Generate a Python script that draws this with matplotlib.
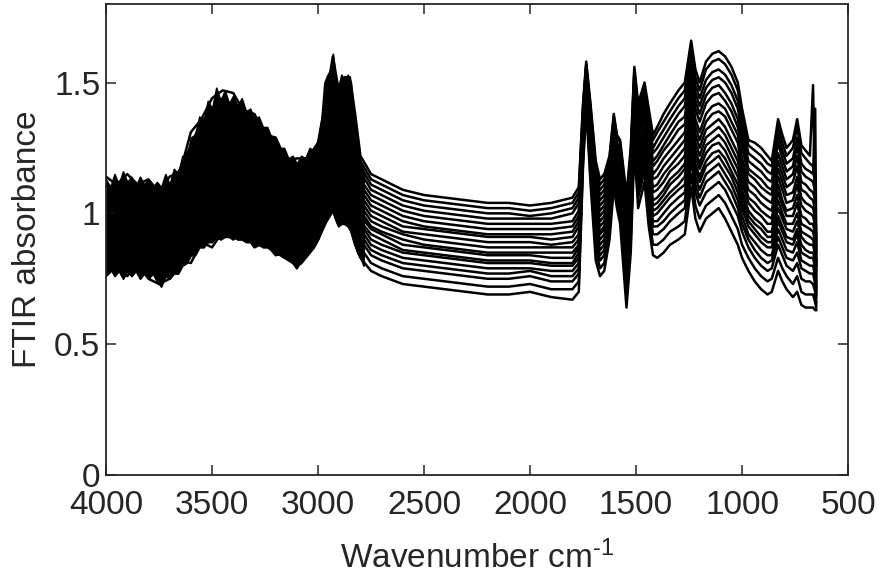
import matplotlib
matplotlib.use("Agg")
import matplotlib.pyplot as plt

plt.rcParams['font.family'] = ['Liberation Sans', 'DejaVu Sans']
plt.rcParams['mathtext.fontset'] = 'custom'
plt.rcParams['mathtext.rm'] = 'Liberation Sans'
plt.rcParams['mathtext.it'] = 'Liberation Sans'

# Wavenumber grid (cm^-1), descending
wavenumber = [
    4000, 3950, 3900, 3850, 3800, 3750, 3700, 3650, 3600, 3550,
    3500, 3450, 3400, 3350, 3300, 3250, 3200, 3150, 3100, 3050,
    3000, 2960, 2930, 2905, 2875, 2850, 2825, 2800, 2750, 2700,
    2600, 2500, 2400, 2300, 2200, 2100, 2000, 1900, 1800, 1770,
    1750, 1735, 1715, 1690, 1670, 1650, 1625, 1605, 1590, 1575,
    1545, 1525, 1508, 1490, 1460, 1440, 1420, 1400,
    1370, 1340, 1300, 1270, 1240, 1220, 1200, 1170, 1140, 1110,
    1080, 1050, 1020, 1000, 970, 940, 910, 880, 860, 830,
    810, 790, 760, 740, 720, 700, 680, 665, 655, 650,
]

spectrum_01 = [
    1.14, 1.11, 1.15, 1.11, 1.13, 1.08, 1.14, 1.16, 1.31, 1.36, 1.44, 1.47, 1.46, 1.39, 1.38, 1.30, 1.29, 1.20, 1.21, 1.21,
    1.27, 1.45, 1.60, 1.48, 1.52, 1.52, 1.38, 1.22, 1.15, 1.13, 1.09, 1.07, 1.06, 1.05, 1.04, 1.04, 1.03, 1.04, 1.06, 1.10,
    1.42, 1.58, 1.42, 1.20, 1.13, 1.15, 1.22, 1.38, 1.30, 1.28, 1.07, 1.25, 1.56, 1.42, 1.50, 1.40, 1.30, 1.33,
    1.38, 1.42, 1.47, 1.50, 1.66, 1.55, 1.50, 1.58, 1.61, 1.62, 1.60, 1.56, 1.50, 1.40, 1.28, 1.27, 1.25, 1.22, 1.20, 1.36,
    1.30, 1.25, 1.28, 1.36, 1.26, 1.24, 1.22, 1.49, 1.00, 0.80,
]
spectrum_02 = [
    1.10, 1.11, 1.11, 1.11, 1.09, 1.09, 1.10, 1.17, 1.26, 1.35, 1.39, 1.44, 1.41, 1.39, 1.34, 1.30, 1.25, 1.20, 1.17, 1.21,
    1.25, 1.43, 1.56, 1.45, 1.49, 1.49, 1.36, 1.20, 1.13, 1.11, 1.07, 1.05, 1.04, 1.03, 1.02, 1.02, 1.01, 1.02, 1.04, 1.08,
    1.41, 1.57, 1.41, 1.18, 1.11, 1.13, 1.21, 1.37, 1.29, 1.27, 1.05, 1.23, 1.55, 1.40, 1.48, 1.38, 1.28, 1.31,
    1.35, 1.39, 1.44, 1.47, 1.63, 1.52, 1.47, 1.55, 1.58, 1.59, 1.57, 1.53, 1.47, 1.37, 1.26, 1.24, 1.22, 1.19, 1.18, 1.33,
    1.27, 1.22, 1.25, 1.33, 1.23, 1.21, 1.19, 1.18, 1.10, 0.88,
]
spectrum_03 = [
    1.06, 1.11, 1.07, 1.11, 1.05, 1.09, 1.06, 1.17, 1.21, 1.34, 1.33, 1.41, 1.36, 1.38, 1.30, 1.29, 1.21, 1.20, 1.13, 1.20,
    1.23, 1.40, 1.52, 1.42, 1.46, 1.46, 1.33, 1.18, 1.11, 1.09, 1.05, 1.03, 1.02, 1.01, 1.00, 1.00, 0.99, 1.00, 1.02, 1.06,
    1.39, 1.56, 1.39, 1.16, 1.09, 1.11, 1.19, 1.35, 1.27, 1.25, 1.02, 1.21, 1.53, 1.38, 1.46, 1.35, 1.25, 1.28,
    1.32, 1.36, 1.41, 1.44, 1.60, 1.49, 1.44, 1.51, 1.54, 1.55, 1.53, 1.49, 1.43, 1.34, 1.23, 1.21, 1.19, 1.16, 1.15, 1.30,
    1.24, 1.19, 1.21, 1.29, 1.19, 1.17, 1.16, 1.15, 1.40, 0.90,
]
spectrum_04 = [
    1.07, 1.07, 1.07, 1.08, 1.06, 1.05, 1.06, 1.12, 1.21, 1.30, 1.33, 1.36, 1.36, 1.33, 1.29, 1.25, 1.21, 1.16, 1.13, 1.17,
    1.21, 1.37, 1.49, 1.40, 1.43, 1.43, 1.30, 1.16, 1.09, 1.07, 1.03, 1.01, 1.00, 0.99, 0.98, 0.98, 0.98, 0.98, 1.00, 1.04,
    1.38, 1.55, 1.37, 1.14, 1.07, 1.09, 1.17, 1.34, 1.26, 1.23, 1.00, 1.19, 1.51, 1.36, 1.44, 1.33, 1.23, 1.25,
    1.29, 1.33, 1.38, 1.41, 1.57, 1.46, 1.41, 1.48, 1.51, 1.52, 1.50, 1.46, 1.40, 1.31, 1.20, 1.18, 1.16, 1.13, 1.12, 1.27,
    1.21, 1.16, 1.18, 1.26, 1.16, 1.14, 1.13, 1.12, 1.08, 0.86,
]
spectrum_05 = [
    1.07, 1.03, 1.07, 1.04, 1.06, 1.00, 1.06, 1.07, 1.21, 1.25, 1.33, 1.31, 1.35, 1.28, 1.27, 1.20, 1.20, 1.11, 1.13, 1.13,
    1.19, 1.34, 1.46, 1.37, 1.40, 1.39, 1.27, 1.13, 1.07, 1.05, 1.01, 0.99, 0.98, 0.97, 0.96, 0.96, 0.96, 0.96, 0.97, 1.01,
    1.37, 1.54, 1.35, 1.12, 1.05, 1.07, 1.15, 1.32, 1.24, 1.21, 0.98, 1.16, 1.49, 1.33, 1.42, 1.30, 1.20, 1.22,
    1.26, 1.30, 1.35, 1.37, 1.54, 1.43, 1.38, 1.45, 1.48, 1.49, 1.46, 1.42, 1.36, 1.28, 1.17, 1.15, 1.13, 1.10, 1.09, 1.23,
    1.18, 1.13, 1.15, 1.22, 1.12, 1.11, 1.09, 1.08, 1.05, 0.85,
]
spectrum_06 = [
    1.03, 1.03, 1.03, 1.04, 1.02, 1.01, 1.02, 1.08, 1.16, 1.24, 1.28, 1.30, 1.30, 1.28, 1.23, 1.20, 1.16, 1.11, 1.09, 1.13,
    1.17, 1.32, 1.43, 1.34, 1.37, 1.36, 1.25, 1.11, 1.05, 1.03, 0.99, 0.97, 0.96, 0.95, 0.94, 0.94, 0.94, 0.94, 0.95, 0.99,
    1.36, 1.53, 1.34, 1.10, 1.03, 1.05, 1.13, 1.31, 1.23, 1.19, 0.96, 1.14, 1.48, 1.31, 1.40, 1.28, 1.18, 1.20,
    1.24, 1.27, 1.32, 1.34, 1.51, 1.40, 1.35, 1.42, 1.45, 1.46, 1.43, 1.39, 1.33, 1.25, 1.15, 1.13, 1.10, 1.08, 1.07, 1.20,
    1.15, 1.10, 1.12, 1.18, 1.09, 1.08, 1.06, 1.05, 1.01, 0.82,
]
spectrum_07 = [
    0.99, 1.03, 0.99, 1.04, 0.98, 1.01, 0.98, 1.08, 1.11, 1.23, 1.22, 1.29, 1.25, 1.27, 1.19, 1.19, 1.12, 1.11, 1.05, 1.12,
    1.15, 1.29, 1.39, 1.31, 1.34, 1.33, 1.22, 1.09, 1.03, 1.01, 0.97, 0.95, 0.94, 0.93, 0.92, 0.92, 0.92, 0.92, 0.93, 0.97,
    1.34, 1.52, 1.32, 1.08, 1.01, 1.03, 1.11, 1.29, 1.21, 1.17, 0.93, 1.12, 1.46, 1.29, 1.38, 1.25, 1.15, 1.17,
    1.21, 1.24, 1.28, 1.31, 1.48, 1.36, 1.31, 1.38, 1.41, 1.42, 1.40, 1.35, 1.30, 1.21, 1.12, 1.10, 1.07, 1.05, 1.04, 1.17,
    1.12, 1.07, 1.08, 1.14, 1.06, 1.04, 1.03, 1.02, 0.98, 0.80,
]
spectrum_08 = [
    0.99, 1.00, 1.00, 1.00, 0.98, 0.97, 0.99, 1.04, 1.11, 1.19, 1.22, 1.24, 1.24, 1.22, 1.18, 1.15, 1.12, 1.07, 1.05, 1.08,
    1.13, 1.27, 1.36, 1.28, 1.31, 1.30, 1.19, 1.07, 1.01, 0.99, 0.95, 0.94, 0.93, 0.92, 0.91, 0.91, 0.91, 0.90, 0.91, 0.95,
    1.33, 1.51, 1.31, 1.06, 0.99, 1.01, 1.10, 1.28, 1.20, 1.16, 0.91, 1.10, 1.44, 1.27, 1.36, 1.23, 1.13, 1.14,
    1.18, 1.21, 1.25, 1.28, 1.45, 1.33, 1.28, 1.35, 1.38, 1.39, 1.37, 1.32, 1.27, 1.18, 1.09, 1.07, 1.04, 1.02, 1.01, 1.14,
    1.09, 1.04, 1.05, 1.11, 1.03, 1.01, 1.00, 0.99, 0.95, 0.78,
]
spectrum_09 = [
    0.99, 0.96, 1.00, 0.96, 0.98, 0.92, 0.99, 0.99, 1.11, 1.14, 1.21, 1.19, 1.23, 1.17, 1.17, 1.10, 1.11, 1.03, 1.04, 1.04,
    1.11, 1.24, 1.33, 1.25, 1.27, 1.27, 1.16, 1.05, 0.99, 0.97, 0.93, 0.92, 0.91, 0.90, 0.89, 0.89, 0.89, 0.88, 0.89, 0.92,
    1.31, 1.50, 1.29, 1.03, 0.97, 0.99, 1.08, 1.26, 1.18, 1.14, 0.88, 1.07, 1.42, 1.24, 1.33, 1.20, 1.10, 1.11,
    1.15, 1.18, 1.22, 1.25, 1.41, 1.30, 1.25, 1.32, 1.34, 1.36, 1.33, 1.28, 1.23, 1.15, 1.06, 1.04, 1.01, 0.99, 0.98, 1.11,
    1.05, 1.01, 1.02, 1.07, 0.99, 0.98, 0.96, 0.96, 0.92, 0.76,
]
spectrum_10 = [
    0.96, 0.96, 0.96, 0.97, 0.95, 0.93, 0.95, 1.00, 1.07, 1.14, 1.16, 1.19, 1.19, 1.17, 1.13, 1.10, 1.07, 1.03, 1.01, 1.04,
    1.09, 1.22, 1.30, 1.23, 1.25, 1.24, 1.14, 1.03, 0.97, 0.95, 0.92, 0.90, 0.89, 0.88, 0.87, 0.87, 0.87, 0.87, 0.87, 0.90,
    1.30, 1.49, 1.28, 1.02, 0.95, 0.97, 1.07, 1.25, 1.17, 1.13, 0.86, 1.05, 1.41, 1.22, 1.32, 1.18, 1.08, 1.09,
    1.12, 1.16, 1.19, 1.22, 1.39, 1.27, 1.22, 1.29, 1.31, 1.33, 1.30, 1.25, 1.20, 1.12, 1.04, 1.01, 0.99, 0.96, 0.96, 1.08,
    1.03, 0.99, 0.99, 1.04, 0.96, 0.95, 0.94, 0.93, 0.89, 0.74,
]
spectrum_11 = [
    0.92, 0.96, 0.92, 0.97, 0.91, 0.94, 0.91, 1.00, 1.02, 1.13, 1.11, 1.18, 1.14, 1.16, 1.09, 1.10, 1.03, 1.03, 0.97, 1.04,
    1.07, 1.19, 1.27, 1.20, 1.22, 1.21, 1.11, 1.01, 0.95, 0.93, 0.90, 0.88, 0.87, 0.86, 0.85, 0.85, 0.85, 0.85, 0.85, 0.88,
    1.29, 1.48, 1.26, 1.00, 0.93, 0.95, 1.05, 1.23, 1.15, 1.11, 0.84, 1.03, 1.39, 1.20, 1.30, 1.16, 1.05, 1.06,
    1.09, 1.13, 1.16, 1.19, 1.36, 1.24, 1.19, 1.26, 1.28, 1.30, 1.27, 1.22, 1.17, 1.09, 1.01, 0.98, 0.96, 0.93, 0.93, 1.05,
    1.00, 0.96, 0.96, 1.00, 0.93, 0.92, 0.91, 0.90, 0.86, 0.72,
]
spectrum_12 = [
    0.93, 0.93, 0.93, 0.94, 0.92, 0.90, 0.92, 0.96, 1.03, 1.09, 1.11, 1.14, 1.14, 1.12, 1.09, 1.06, 1.03, 0.99, 0.97, 1.01,
    1.06, 1.17, 1.25, 1.18, 1.20, 1.19, 1.09, 0.99, 0.94, 0.92, 0.88, 0.87, 0.86, 0.85, 0.84, 0.84, 0.84, 0.83, 0.83, 0.87,
    1.28, 1.48, 1.25, 0.98, 0.92, 0.94, 1.04, 1.22, 1.14, 1.10, 0.82, 1.02, 1.38, 1.19, 1.28, 1.14, 1.03, 1.04,
    1.07, 1.11, 1.14, 1.17, 1.34, 1.22, 1.17, 1.23, 1.26, 1.27, 1.24, 1.19, 1.14, 1.07, 0.99, 0.96, 0.94, 0.91, 0.91, 1.02,
    0.98, 0.94, 0.93, 0.97, 0.91, 0.89, 0.88, 0.88, 0.84, 0.71,
]
spectrum_13 = [
    0.93, 0.89, 0.93, 0.90, 0.92, 0.85, 0.92, 0.91, 1.03, 1.04, 1.11, 1.09, 1.13, 1.07, 1.08, 1.02, 1.03, 0.95, 0.97, 0.97,
    1.04, 1.15, 1.22, 1.15, 1.17, 1.16, 1.07, 0.97, 0.92, 0.90, 0.86, 0.85, 0.84, 0.83, 0.82, 0.82, 0.82, 0.81, 0.81, 0.85,
    1.27, 1.47, 1.23, 0.96, 0.90, 0.92, 1.02, 1.20, 1.12, 1.08, 0.80, 1.00, 1.37, 1.17, 1.26, 1.12, 1.01, 1.02,
    1.05, 1.08, 1.11, 1.14, 1.31, 1.19, 1.14, 1.20, 1.23, 1.24, 1.21, 1.16, 1.11, 1.04, 0.97, 0.94, 0.91, 0.89, 0.89, 0.99,
    0.95, 0.91, 0.90, 0.94, 0.88, 0.86, 0.85, 0.85, 0.82, 0.70,
]
spectrum_14 = [
    0.90, 0.90, 0.90, 0.91, 0.89, 0.86, 0.89, 0.92, 0.99, 1.04, 1.07, 1.09, 1.09, 1.07, 1.04, 1.02, 1.00, 0.96, 0.94, 0.97,
    1.02, 1.13, 1.20, 1.13, 1.15, 1.14, 1.05, 0.96, 0.90, 0.88, 0.85, 0.84, 0.83, 0.82, 0.81, 0.81, 0.81, 0.80, 0.80, 0.83,
    1.26, 1.46, 1.22, 0.95, 0.88, 0.90, 1.01, 1.19, 1.11, 1.07, 0.78, 0.98, 1.36, 1.15, 1.25, 1.10, 0.99, 1.00,
    1.03, 1.06, 1.09, 1.11, 1.29, 1.17, 1.12, 1.18, 1.20, 1.22, 1.18, 1.14, 1.08, 1.02, 0.95, 0.92, 0.89, 0.87, 0.87, 0.97,
    0.93, 0.89, 0.88, 0.92, 0.85, 0.84, 0.83, 0.83, 0.79, 0.69,
]
spectrum_15 = [
    0.86, 0.90, 0.86, 0.91, 0.85, 0.87, 0.85, 0.93, 0.94, 1.03, 1.02, 1.08, 1.05, 1.07, 1.00, 1.02, 0.96, 0.96, 0.90, 0.97,
    1.00, 1.10, 1.17, 1.11, 1.12, 1.11, 1.02, 0.94, 0.88, 0.86, 0.83, 0.82, 0.81, 0.80, 0.79, 0.79, 0.79, 0.78, 0.78, 0.81,
    1.25, 1.45, 1.20, 0.93, 0.86, 0.88, 0.99, 1.18, 1.10, 1.05, 0.76, 0.96, 1.34, 1.13, 1.23, 1.08, 0.97, 0.97,
    1.00, 1.03, 1.06, 1.08, 1.26, 1.14, 1.09, 1.15, 1.17, 1.19, 1.15, 1.11, 1.05, 0.99, 0.92, 0.89, 0.86, 0.84, 0.84, 0.94,
    0.90, 0.86, 0.85, 0.89, 0.82, 0.81, 0.80, 0.80, 0.76, 0.68,
]
spectrum_16 = [
    0.86, 0.86, 0.86, 0.87, 0.85, 0.83, 0.85, 0.89, 0.94, 0.99, 1.02, 1.03, 1.04, 1.02, 0.99, 0.98, 0.95, 0.92, 0.90, 0.94,
    0.98, 1.08, 1.14, 1.08, 1.09, 1.08, 1.00, 0.92, 0.86, 0.84, 0.81, 0.80, 0.79, 0.78, 0.77, 0.77, 0.78, 0.76, 0.76, 0.79,
    1.24, 1.44, 1.19, 0.91, 0.84, 0.86, 0.97, 1.17, 1.09, 1.03, 0.74, 0.94, 1.32, 1.11, 1.21, 1.06, 0.95, 0.95,
    0.97, 1.00, 1.03, 1.05, 1.23, 1.11, 1.06, 1.12, 1.14, 1.16, 1.12, 1.08, 1.02, 0.96, 0.90, 0.86, 0.83, 0.81, 0.82, 0.91,
    0.87, 0.83, 0.82, 0.85, 0.79, 0.78, 0.77, 0.77, 0.73, 0.66,
]
spectrum_17 = [
    0.86, 0.82, 0.86, 0.83, 0.85, 0.78, 0.85, 0.84, 0.94, 0.94, 1.01, 0.98, 1.03, 0.97, 0.98, 0.93, 0.94, 0.88, 0.90, 0.90,
    0.96, 1.05, 1.11, 1.05, 1.06, 1.05, 0.97, 0.90, 0.84, 0.82, 0.79, 0.78, 0.77, 0.76, 0.75, 0.75, 0.76, 0.74, 0.74, 0.77,
    1.22, 1.43, 1.17, 0.89, 0.82, 0.84, 0.95, 1.15, 1.07, 1.01, 0.71, 0.92, 1.30, 1.09, 1.19, 1.03, 0.92, 0.92,
    0.94, 0.97, 1.00, 1.02, 1.20, 1.08, 1.03, 1.08, 1.10, 1.12, 1.09, 1.04, 0.99, 0.93, 0.87, 0.83, 0.80, 0.78, 0.79, 0.88,
    0.84, 0.80, 0.78, 0.81, 0.75, 0.74, 0.74, 0.73, 0.70, 0.65,
]
spectrum_18 = [
    0.81, 0.81, 0.81, 0.82, 0.80, 0.76, 0.80, 0.83, 0.88, 0.92, 0.94, 0.96, 0.97, 0.95, 0.93, 0.91, 0.89, 0.87, 0.85, 0.88,
    0.93, 1.01, 1.06, 1.01, 1.01, 1.00, 0.93, 0.87, 0.81, 0.79, 0.76, 0.75, 0.74, 0.73, 0.72, 0.72, 0.73, 0.71, 0.71, 0.74,
    1.20, 1.42, 1.15, 0.86, 0.79, 0.81, 0.93, 1.13, 1.05, 0.99, 0.68, 0.89, 1.28, 1.06, 1.16, 0.99, 0.88, 0.88,
    0.90, 0.93, 0.95, 0.97, 1.15, 1.03, 0.98, 1.03, 1.05, 1.07, 1.04, 0.99, 0.94, 0.88, 0.83, 0.79, 0.76, 0.74, 0.75, 0.83,
    0.79, 0.76, 0.73, 0.76, 0.70, 0.69, 0.69, 0.69, 0.66, 0.64,
]
spectrum_19 = [
    0.76, 0.80, 0.76, 0.81, 0.75, 0.73, 0.75, 0.82, 0.81, 0.89, 0.87, 0.93, 0.90, 0.93, 0.87, 0.89, 0.84, 0.85, 0.79, 0.86,
    0.90, 0.97, 1.01, 0.96, 0.96, 0.95, 0.88, 0.83, 0.78, 0.76, 0.73, 0.72, 0.71, 0.70, 0.69, 0.69, 0.70, 0.68, 0.67, 0.70,
    1.18, 1.40, 1.12, 0.82, 0.76, 0.78, 0.90, 1.10, 1.02, 0.96, 0.64, 0.85, 1.25, 1.02, 1.12, 0.95, 0.84, 0.83,
    0.85, 0.88, 0.90, 0.92, 1.10, 0.98, 0.93, 0.98, 1.00, 1.02, 0.98, 0.93, 0.88, 0.83, 0.78, 0.74, 0.71, 0.69, 0.70, 0.78,
    0.74, 0.71, 0.68, 0.70, 0.65, 0.64, 0.64, 0.64, 0.63, 0.63,
]

# Region 4000-2785 cm^-1 where the noisy traces overlap into a solid band
noisy_band_wavenumber = [
    4000, 3980, 3960, 3940, 3920, 3900, 3880, 3860, 3840, 3820,
    3800, 3780, 3760, 3740, 3720, 3700, 3680, 3660, 3640, 3620,
    3600, 3580, 3560, 3540, 3520, 3500, 3480, 3460, 3440, 3420,
    3400, 3380, 3360, 3340, 3320, 3300, 3280, 3260, 3240, 3220,
    3200, 3180, 3160, 3140, 3120, 3100, 3080, 3060, 3040, 3020,
    3000, 2985, 2970, 2955, 2940, 2930, 2920, 2905, 2890, 2875,
    2860, 2845, 2830, 2815, 2800, 2785,
]
noisy_band_upper = [
    1.13, 1.10, 1.15, 1.11, 1.16, 1.12, 1.14, 1.10, 1.14, 1.11,
    1.13, 1.10, 1.12, 1.10, 1.15, 1.11, 1.17, 1.15, 1.22, 1.21,
    1.29, 1.30, 1.37, 1.35, 1.43, 1.40, 1.48, 1.43, 1.47, 1.42,
    1.45, 1.41, 1.44, 1.39, 1.40, 1.36, 1.37, 1.33, 1.33, 1.29,
    1.29, 1.25, 1.25, 1.21, 1.22, 1.19, 1.22, 1.21, 1.25, 1.24,
    1.28, 1.35, 1.50, 1.53, 1.55, 1.61, 1.54, 1.48, 1.53, 1.51,
    1.53, 1.50, 1.38, 1.25, 1.19, 1.16,
]
noisy_band_lower = [
    0.77, 0.79, 0.76, 0.78, 0.75, 0.78, 0.76, 0.78, 0.75, 0.77,
    0.75, 0.77, 0.74, 0.72, 0.76, 0.75, 0.77, 0.77, 0.80, 0.81,
    0.84, 0.84, 0.87, 0.87, 0.89, 0.89, 0.91, 0.90, 0.91, 0.91,
    0.91, 0.90, 0.90, 0.89, 0.89, 0.88, 0.88, 0.87, 0.87, 0.86,
    0.85, 0.84, 0.83, 0.82, 0.81, 0.80, 0.81, 0.83, 0.85, 0.87,
    0.90, 0.93, 0.96, 0.98, 1.00, 1.01, 0.98, 0.95, 0.96, 0.96,
    0.95, 0.93, 0.89, 0.85, 0.83, 0.80,
]

spectra = [spectrum_01, spectrum_02, spectrum_03, spectrum_04, spectrum_05,
           spectrum_06, spectrum_07, spectrum_08, spectrum_09, spectrum_10,
           spectrum_11, spectrum_12, spectrum_13, spectrum_14, spectrum_15,
           spectrum_16, spectrum_17, spectrum_18, spectrum_19]

x_ticks = [4000, 3500, 3000, 2500, 2000, 1500, 1000, 500]
y_ticks = [0, 0.5, 1, 1.5]
y_tick_labels = ['0', '0.5', '1', '1.5']

fig = plt.figure(figsize=(8.82, 5.83), dpi=100)
ax = fig.add_axes([0.1202, 0.1852, 0.8413, 0.8079])

ax.fill_between(noisy_band_wavenumber, noisy_band_lower, noisy_band_upper,
                color='black', linewidth=1.2, edgecolor='black')
for s in spectra:
    assert len(s) == len(wavenumber)
    ax.plot(wavenumber, s, color='black', lw=1.8, solid_joinstyle='round')

ax.set_xlim(4000, 500)
ax.set_ylim(0, 1.8)
ax.set_xticks(x_ticks)
ax.set_xticklabels([str(t) for t in x_ticks])
ax.set_yticks(y_ticks)
ax.set_yticklabels(y_tick_labels)

axis_color = '#262626'
for sp in ax.spines.values():
    sp.set_color(axis_color)
    sp.set_linewidth(1.3)
ax.tick_params(direction='in', length=7, width=1.1, colors=axis_color,
               labelsize=24, top=True, right=True)
ax.tick_params(axis='x', pad=11)
ax.tick_params(axis='y', pad=4)
for lab in ax.get_xticklabels() + ax.get_yticklabels():
    lab.set_color(axis_color)

ax.set_xlabel(r'Wavenumber cm$^{\text{-1}}$', fontsize=24, color=axis_color, labelpad=14)
ax.set_ylabel('FTIR absorbance', fontsize=24, color=axis_color, labelpad=8)

fig.savefig('out.png', dpi=100)
